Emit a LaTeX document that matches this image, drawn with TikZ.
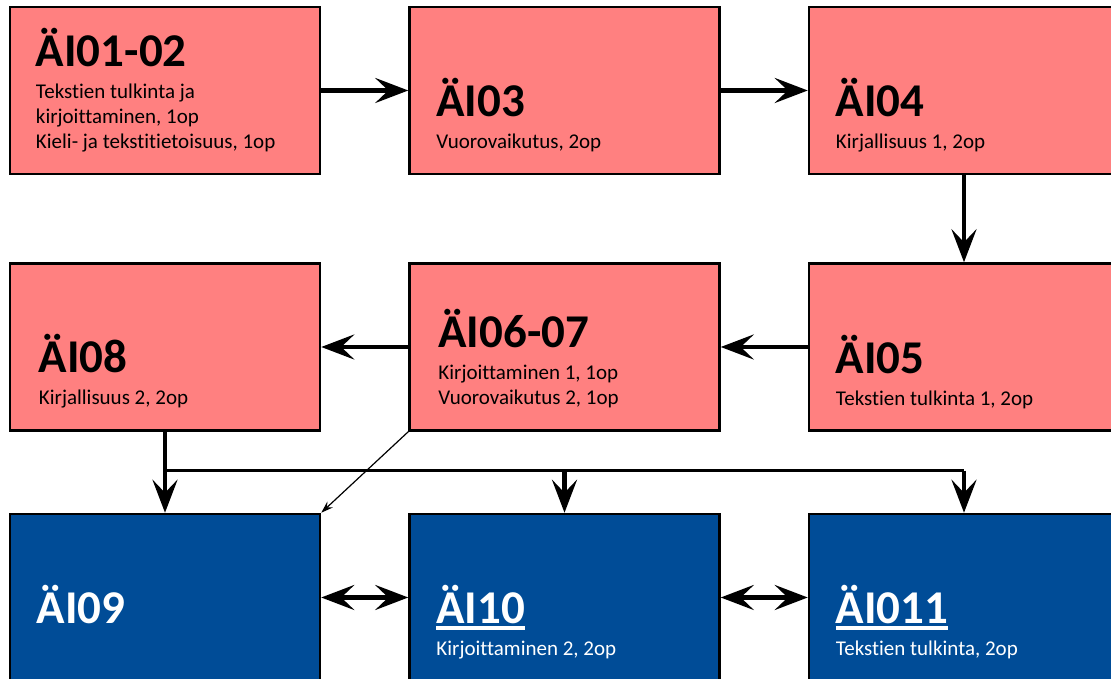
\documentclass[tikz,border=0pt]{standalone}
\usepackage{fontspec}
\setmainfont{Carlito}[Ligatures=NoCommon]
\usetikzlibrary{positioning,arrows.meta}

\definecolor{pinkbox}{RGB}{255,128,128}
\definecolor{bluebox}{RGB}{0,76,151}

\newcommand{\ulbar}[1]{\leavevmode\setbox0\hbox{#1}\rlap{\rule[-7pt]{\wd0}{4pt}}\box0}
\newcommand{\boxtext}[2]{\parbox[b]{290pt}{\raggedright\leavevmode{\fontsize{47}{47}\selectfont\bfseries #1}\\[7pt]#2}}

\tikzstyle{pk} = [rectangle, minimum width=310pt, minimum height=167pt, draw=black, line width=2.5pt, fill=pinkbox]
\tikzstyle{bl} = [pk, fill=bluebox]
\tikzstyle{tx} = [anchor=base west, inner sep=0pt, font=\fontsize{21}{25}\selectfont]
\tikzstyle{ar} = [-{Stealth[length=33pt,width=25pt,inset=13pt]}, line width=4.5pt]
\tikzstyle{dar} = [{Stealth[length=33pt,width=25pt,inset=13pt]}-{Stealth[length=33pt,width=25pt,inset=13pt]}, line width=4.5pt]
\tikzstyle{br} = [line width=3pt]
\tikzstyle{tn} = [-{Stealth[length=12pt,width=8pt,inset=4pt]}, line width=1.2pt]

\begin{document}
\begin{tikzpicture}[x=1pt,y=1pt,node distance=87pt]
        \useasboundingbox (0,0) rectangle (1111,679);
        \clip (0,0) rectangle (1111,679);
        \node[pk] (a) at (165,588.5) {};
        \node[pk] (b) [right=of a] {};
        \node[pk] (c) [right=of b] {};
        \node[pk] (f) [below=of c] {};
        \node[pk] (e) [left=of f] {};
        \node[pk] (d) [left=of e] {};
        \node[bl] (g) [below=81pt of d] {};
        \node[bl] (h) [right=of g] {};
        \node[bl] (i) [right=of h] {};
        \node[tx] (ta) at ([shift={(27,27)}]a.south west) {\boxtext{ÄI01-02}{Tekstien tulkinta ja\\kirjoittaminen, 1op\\Kieli- ja tekstitietoisuus, 1op}};
        \node[tx] (tb) at ([shift={(28,27)}]b.south west) {\boxtext{ÄI03}{Vuorovaikutus, 2op}};
        \node[tx] (tc) at ([shift={(28,27)}]c.south west) {\boxtext{ÄI04}{Kirjallisuus 1, 2op}};
        \node[tx] (tf) at ([shift={(28,26)}]f.south west) {\boxtext{ÄI05}{Tekstien tulkinta 1, 2op}};
        \node[tx] (te) at ([shift={(30,27)}]e.south west) {\boxtext{ÄI06-07}{Kirjoittaminen 1, 1op\\Vuorovaikutus 2, 1op}};
        \node[tx] (td) at ([shift={(30,27)}]d.south west) {\boxtext{ÄI08}{Kirjallisuus 2, 2op}};
        \node[tx, text=white] (tg) at ([shift={(28,27)}]g.south west) {\boxtext{ÄI09}{\mbox{}}};
        \node[tx, text=white] (th) at ([shift={(28,27)}]h.south west) {\boxtext{\ulbar{ÄI10}}{Kirjoittaminen 2, 2op}};
        \node[tx, text=white] (ti) at ([shift={(28,27)}]i.south west) {\boxtext{\ulbar{ÄI011}}{Tekstien tulkinta, 2op}};
        \draw[ar] (a) -- (b);
        \draw[ar] (b) -- (c);
        \draw[ar] (c) -- (f);
        \draw[ar] (f) -- (e);
        \draw[ar] (e) -- (d);
        \draw[ar] (d) -- (g);
        \coordinate[below=39pt of d] (sp);
        \draw[br] (sp) -- (sp -| i.north);
        \draw[ar] (sp -| h.north) -- (h.north);
        \draw[ar] (sp -| i.north) -- (i.north);
        \draw[tn] (e.south west) -- (g.north east);
        \draw[dar] (g) -- (h);
        \draw[dar] (h) -- (i);
    \end{tikzpicture}
\end{document}
